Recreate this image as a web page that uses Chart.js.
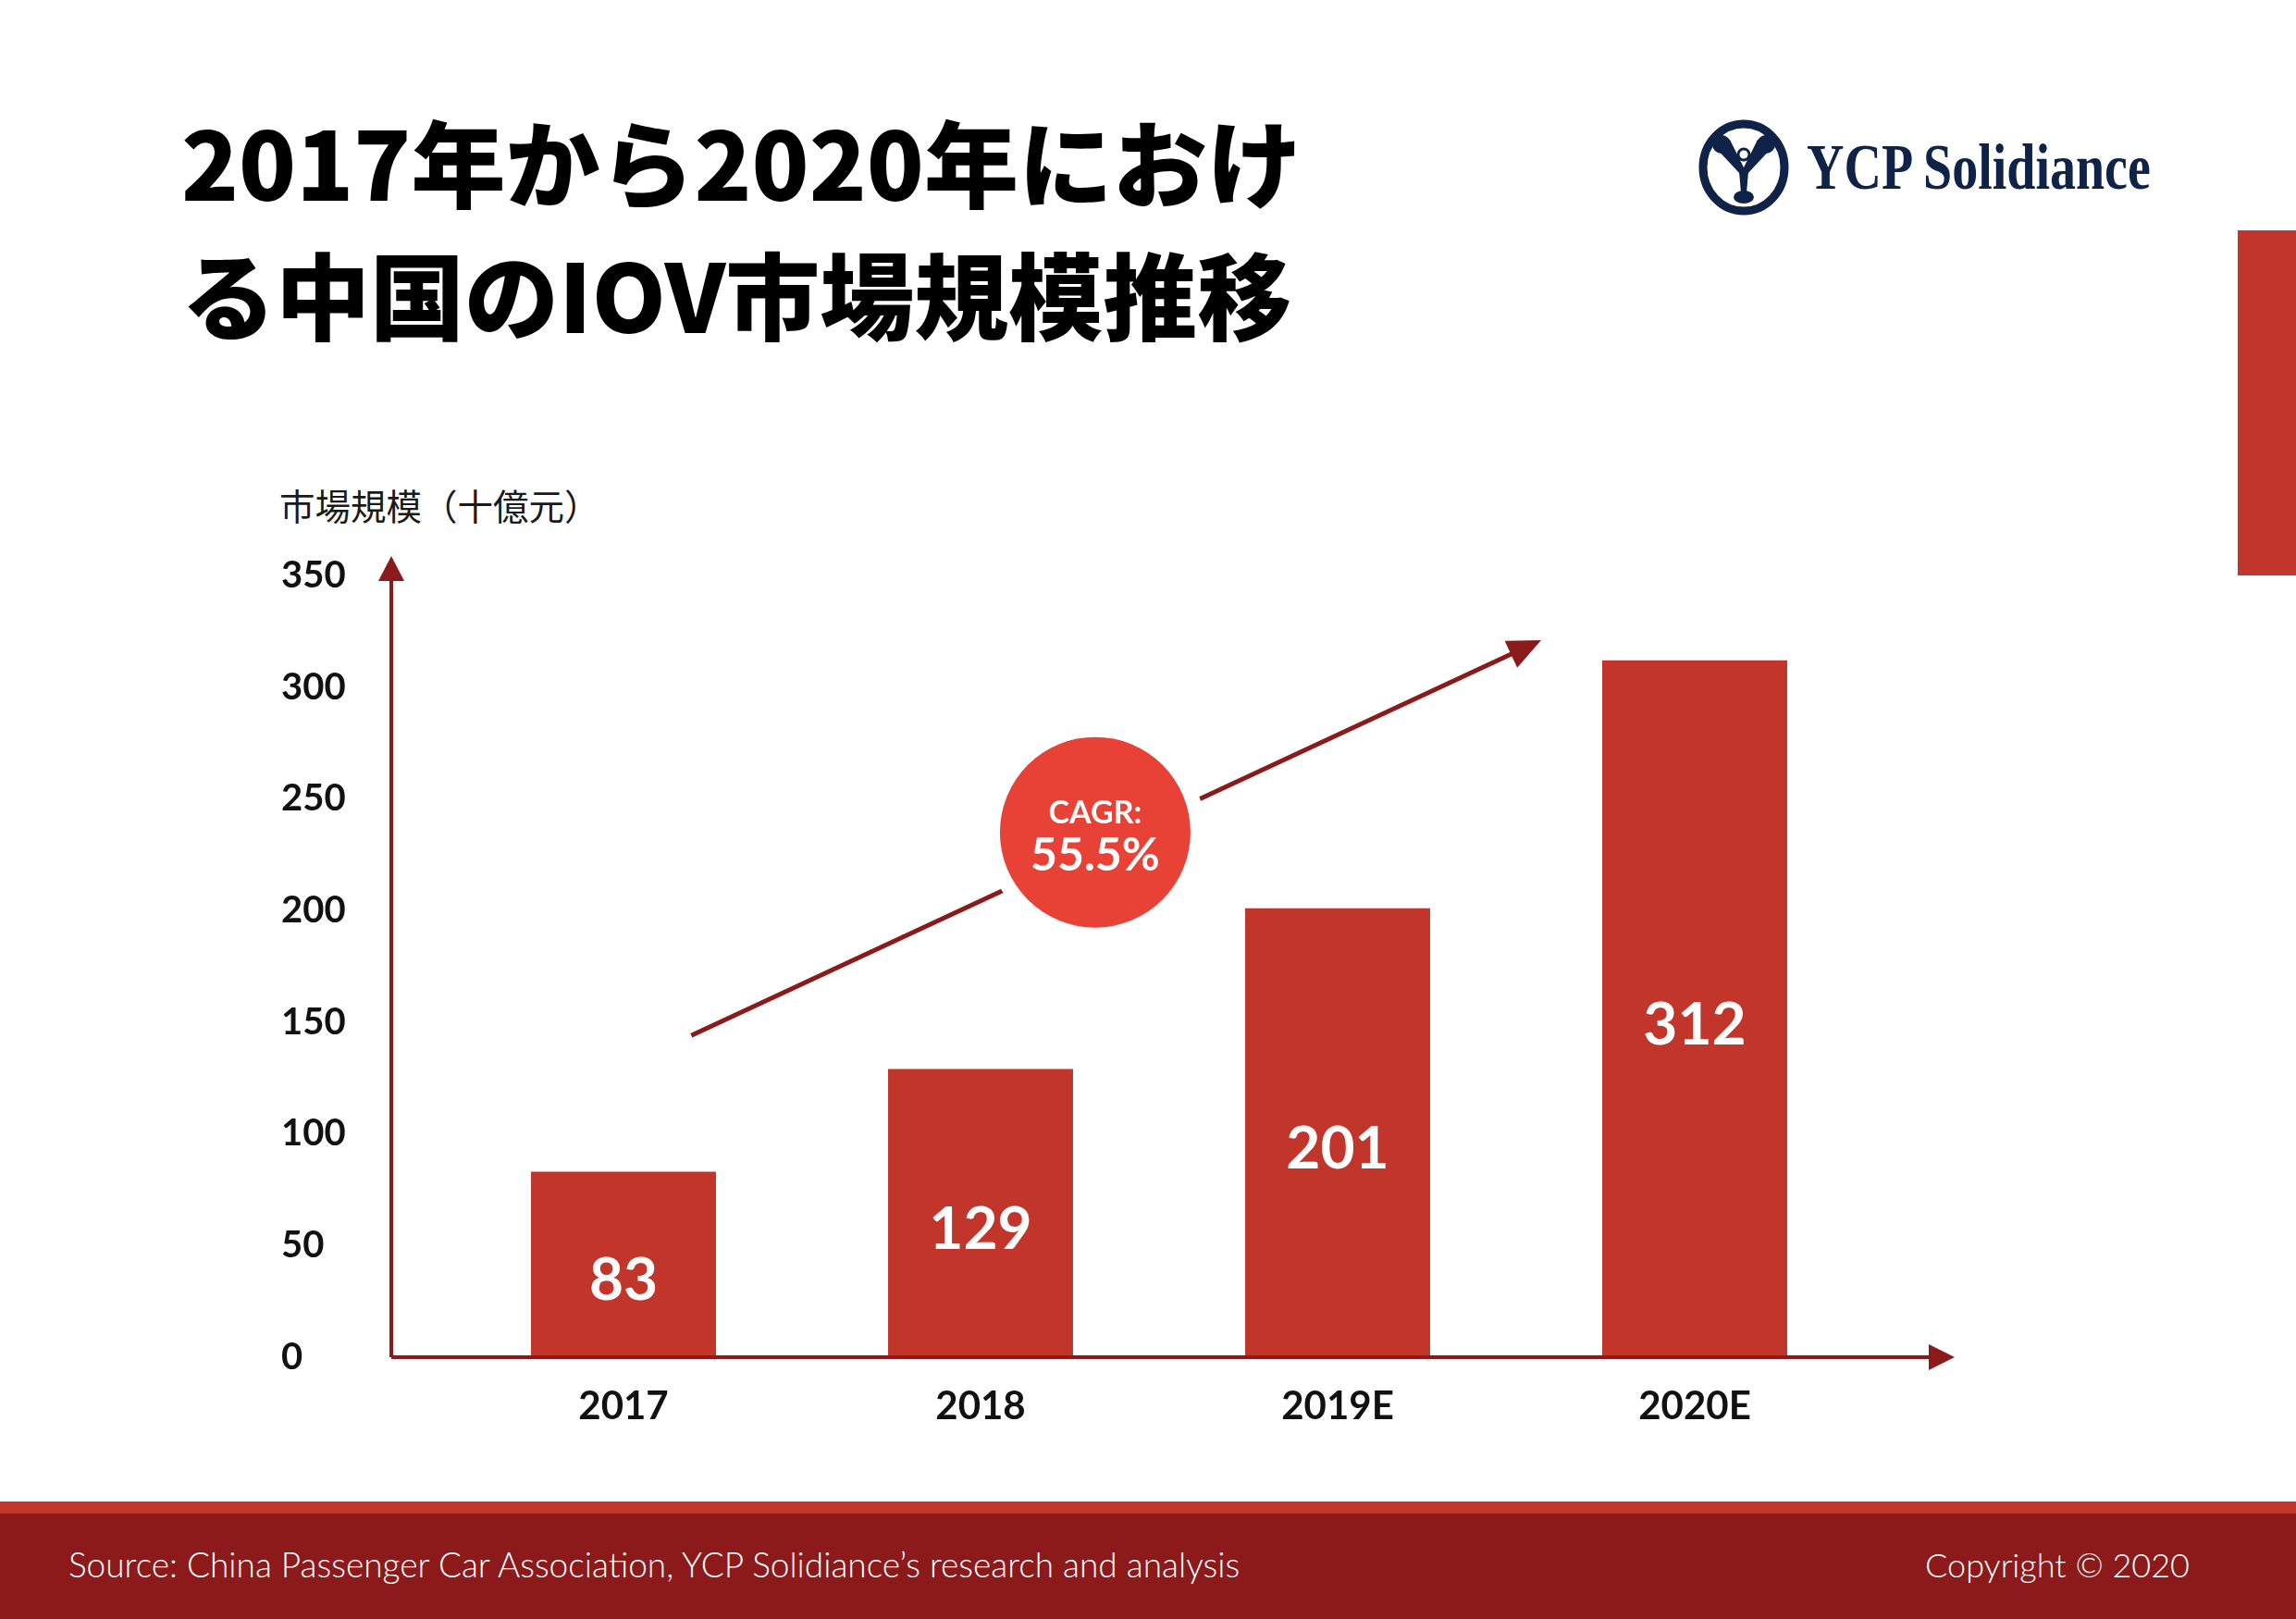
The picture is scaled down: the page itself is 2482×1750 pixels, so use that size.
<!DOCTYPE html>
<html>
<head>
<meta charset="utf-8">
<script src="https://cdn.jsdelivr.net/npm/chart.js@4.4.1/dist/chart.umd.min.js"></script>
<style>
  html, body { margin: 0; padding: 0; background: #fff; }
  #page { position: relative; width: 2482px; height: 1750px; overflow: hidden; background: #fff; }
  #chart { position: absolute; left: 0; top: 0; }
  .title { position: absolute; left: 196px; top: 101px; font-family: "Noto Sans CJK JP", sans-serif; font-weight: 900;
           font-size: 102px; line-height: 143px; color: #000; white-space: nowrap; }
  .logo-text { position: absolute; left: 1953px; top: 136px; font-family: "Liberation Serif", serif; font-weight: bold;
               font-size: 70px; line-height: 90px; color: #0f2248; transform: scaleX(0.8); transform-origin: left center; white-space: nowrap; }
  #logo { position: absolute; left: 1830px; top: 125px; }
  .side-bar { position: absolute; left: 2419px; top: 249px; width: 63px; height: 373px; background: #c1352b; }
  .axis-title { position: absolute; left: 302px; top: 520px; font-family: "Noto Sans CJK JP", sans-serif; font-size: 38.5px;
                line-height: 50px; color: #1a1a1a; white-space: nowrap; }
  .footer { position: absolute; left: 0; top: 1623px; width: 2482px; height: 127px; background: #8c1a1b; }
  .footer .band { position: absolute; left: 0; top: 0; width: 100%; height: 13px; background: #c4352b; }
  .footer .src, .footer .copy { position: absolute; top: 46px; font-family: "Lato", sans-serif; font-weight: 300;
                                font-size: 36px; line-height: 44px; color: #fff; white-space: nowrap; }
  .footer .src { left: 74px; font-size: 37px; }
  .footer .copy { right: 115px; }
</style>
</head>
<body>
<div id="page">
  <div class="title">2017年から2020年におけ<br>る中国のIOV市場規模推移</div>

  <svg id="logo" width="110" height="112" viewBox="0 0 110 112">
    <ellipse cx="55" cy="56" rx="44" ry="47" fill="none" stroke="#0f2248" stroke-width="9"/>
    <circle cx="31" cy="31" r="10" fill="#0f2248"/>
    <circle cx="79" cy="31" r="10" fill="#0f2248"/>
    <path d="M24 34 L40 26 L58 62 L52 64 Z" fill="#0f2248"/>
    <path d="M86 34 L70 26 L52 62 L58 64 Z" fill="#0f2248"/>
    <circle cx="55" cy="42" r="6" fill="none" stroke="#0f2248" stroke-width="3"/>
    <path d="M50 60 L60 60 L58 84 L52 84 Z" fill="#0f2248"/>
    <ellipse cx="55" cy="88" rx="11" ry="7" fill="#0f2248"/>
  </svg>
  <div class="logo-text">YCP Solidiance</div>

  <div class="side-bar"></div>
  <div class="axis-title">市場規模（十億元）</div>

  <canvas id="chart" width="2482" height="1750"></canvas>

  <div class="footer">
    <div class="band"></div>
    <div class="src">Source: China Passenger Car Association, YCP Solidiance’s research and analysis</div>
    <div class="copy">Copyright © 2020</div>
  </div>
</div>

<script>
// データ
const categories = ['2017', '2018', '2019E', '2020E'];
const marketSize = [83, 129, 201, 312];
const yTicks = [0, 50, 100, 150, 200, 250, 300, 350];
const cagrText = ['CAGR:', '55.5%'];

const AXIS_COLOR = '#8b1a1a';
const BAR_COLOR = '#c1352b';
const CIRCLE_COLOR = '#e84135';

// 矢印の三角形
function arrowHead(ctx, tipX, tipY, angle, len, half) {
  ctx.save();
  ctx.translate(tipX, tipY);
  ctx.rotate(angle);
  ctx.beginPath();
  ctx.moveTo(0, 0);
  ctx.lineTo(-len, -half);
  ctx.lineTo(-len, half);
  ctx.closePath();
  ctx.fill();
  ctx.restore();
}

const decorPlugin = {
  id: 'decor',
  afterDatasetsDraw(chart) {
    const ctx = chart.ctx;
    const area = chart.chartArea;
    const xs = chart.scales.x;
    const ys = chart.scales.y;

    // 棒の中の数値
    const meta = chart.getDatasetMeta(0);
    ctx.save();
    ctx.fillStyle = '#fff';
    ctx.font = 'bold 64px Lato';
    ctx.textAlign = 'center';
    ctx.textBaseline = 'middle';
    meta.data.forEach((bar, i) => {
      const cy = (bar.base + bar.y) / 2 + 18;
      ctx.fillText(String(marketSize[i]), bar.x, cy);
    });
    ctx.restore();

    // 軸（矢印付き）
    const ax = area.left - 58;
    const ay = area.bottom;
    ctx.save();
    ctx.strokeStyle = AXIS_COLOR;
    ctx.fillStyle = AXIS_COLOR;
    ctx.lineWidth = 4;
    ctx.beginPath();
    ctx.moveTo(ax, ay);
    ctx.lineTo(ax, area.top + 4);
    ctx.moveTo(ax, ay);
    ctx.lineTo(area.right + 62, ay);
    ctx.stroke();
    arrowHead(ctx, ax, area.top - 21, -Math.PI / 2, 27, 14);
    arrowHead(ctx, area.right + 88, ay, 0, 28, 14);

    // CAGR の矢印
    const x0 = xs.getPixelForValue(0.19), y0 = ys.getPixelForValue(144);
    const x1 = xs.getPixelForValue(2.57), y1 = ys.getPixelForValue(321);
    const ang = Math.atan2(y1 - y0, x1 - x0);
    ctx.lineWidth = 5;
    ctx.beginPath();
    ctx.moveTo(x0, y0);
    ctx.lineTo(x1 - Math.cos(ang) * 25, y1 - Math.sin(ang) * 25);
    ctx.stroke();
    arrowHead(ctx, x1, y1, ang, 36, 16);

    // 円
    const cx = xs.getPixelForValue(1.321), cy = ys.getPixelForValue(235);
    const r = 103;
    ctx.fillStyle = '#fff';
    ctx.beginPath();
    ctx.arc(cx, cy, r + 16, 0, Math.PI * 2);
    ctx.fill();
    ctx.fillStyle = CIRCLE_COLOR;
    ctx.beginPath();
    ctx.arc(cx, cy, r, 0, Math.PI * 2);
    ctx.fill();
    ctx.fillStyle = '#fff';
    ctx.textAlign = 'center';
    ctx.textBaseline = 'middle';
    ctx.font = 'bold 34px Lato';
    ctx.fillText(cagrText[0], cx, cy - 21);
    ctx.font = 'bold 50px Lato';
    ctx.fillText(cagrText[1], cx, cy + 25);
    ctx.restore();
  }
};

new Chart(document.getElementById('chart'), {
  type: 'bar',
  data: {
    labels: categories,
    datasets: [{
      data: marketSize,
      backgroundColor: BAR_COLOR,
      borderWidth: 0,
      barPercentage: 0.518,
      categoryPercentage: 1
    }]
  },
  options: {
    responsive: false,
    animation: false,
    devicePixelRatio: 1,
    layout: { padding: { left: 304, right: 457, top: 622, bottom: 150 } },
    plugins: {
      legend: { display: false },
      tooltip: { enabled: false }
    },
    scales: {
      x: {
        grid: { display: false, drawTicks: false },
        border: { display: false },
        ticks: { color: '#111', font: { family: 'Lato', weight: 'bold', size: 42 }, padding: 28 },
        afterFit(scale) { scale.height = 133; }
      },
      y: {
        min: 0,
        max: 350,
        grid: { display: false, drawTicks: false },
        border: { display: false },
        afterBuildTicks(scale) { scale.ticks = yTicks.map(v => ({ value: v })); },
        ticks: { color: '#111', crossAlign: 'far', font: { family: 'Lato', weight: 'bold', size: 40 } },
        afterFit(scale) { scale.width = 177; }
      }
    }
  },
  plugins: [decorPlugin]
});
</script>
</body>
</html>
